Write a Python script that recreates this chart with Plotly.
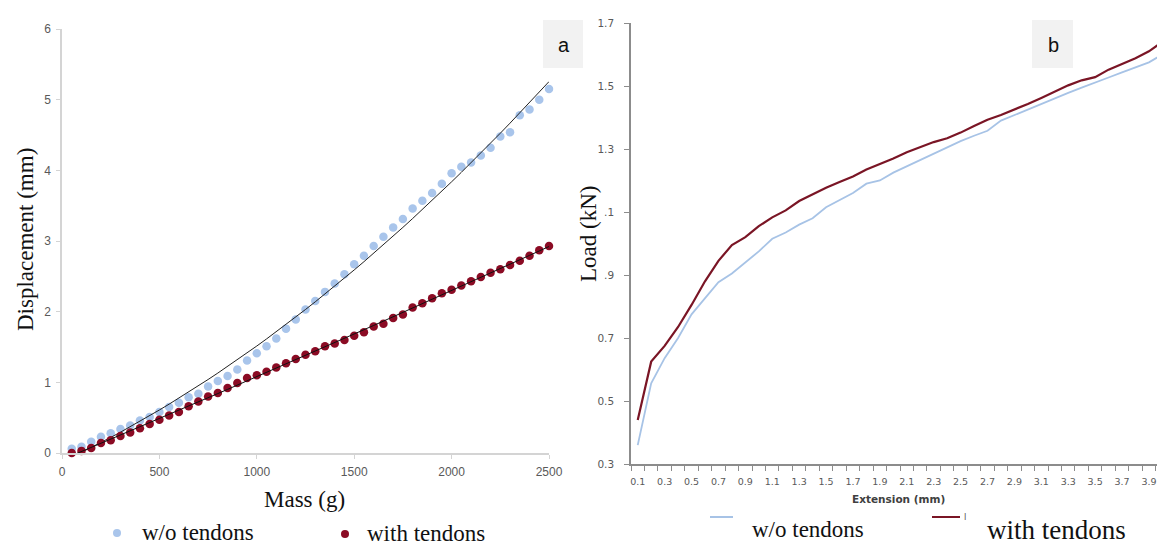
import numpy as np
import plotly.graph_objects as go

W, H = 1157, 545

# ---------------- Data: panel a ----------------
mass_g = [50 * i for i in range(1, 51)]
disp_without = [0.06, 0.09, 0.16, 0.23, 0.28, 0.34, 0.39, 0.46, 0.51, 0.58,
                0.65, 0.71, 0.79, 0.84, 0.94, 1.02, 1.09, 1.18, 1.31, 1.41,
                1.51, 1.62, 1.76, 1.89, 2.03, 2.15, 2.28, 2.40, 2.53, 2.67,
                2.79, 2.93, 3.06, 3.19, 3.31, 3.46, 3.57, 3.68, 3.81, 3.96,
                4.05, 4.11, 4.21, 4.32, 4.48, 4.54, 4.78, 4.86, 5.00, 5.15]
disp_with = [0.00, 0.03, 0.07, 0.14, 0.18, 0.24, 0.29, 0.35, 0.41, 0.47,
             0.53, 0.58, 0.66, 0.73, 0.80, 0.85, 0.92, 0.99, 1.06, 1.10,
             1.15, 1.21, 1.27, 1.33, 1.39, 1.44, 1.51, 1.55, 1.60, 1.66,
             1.71, 1.79, 1.83, 1.91, 1.96, 2.06, 2.12, 2.19, 2.26, 2.31,
             2.37, 2.43, 2.49, 2.55, 2.60, 2.66, 2.72, 2.79, 2.87, 2.93]
mass_ticks = [0, 500, 1000, 1500, 2000, 2500]
disp_ticks = [0, 1, 2, 3, 4, 5, 6]

# ---------------- Data: panel b ----------------
extension_mm = [round(0.1 * i, 1) for i in range(1, 41)]
load_without = [0.36, 0.556, 0.636, 0.70, 0.775, 0.825, 0.877, 0.905, 0.94, 0.975,
                1.015, 1.035, 1.06, 1.08, 1.115, 1.138, 1.16, 1.19, 1.20, 1.225,
                1.245, 1.265, 1.285, 1.305, 1.325, 1.342, 1.358, 1.39, 1.408, 1.425,
                1.442, 1.46, 1.478, 1.495, 1.512, 1.527, 1.543, 1.56, 1.575, 1.60]
load_with = [0.44, 0.625, 0.675, 0.735, 0.805, 0.88, 0.945, 0.995, 1.02, 1.055,
             1.083, 1.105, 1.135, 1.157, 1.177, 1.195, 1.213, 1.235, 1.252, 1.27,
             1.29, 1.305, 1.322, 1.334, 1.352, 1.373, 1.393, 1.408, 1.425, 1.443,
             1.462, 1.482, 1.502, 1.518, 1.528, 1.552, 1.57, 1.588, 1.61, 1.64]
ext_tick_vals = [round(0.1 + 0.2 * i, 1) for i in range(20)]
ext_tick_text = [f"{v:.1f}" for v in ext_tick_vals]
ext_boundaries = [round(0.05 + 0.1 * i, 2) for i in range(40)]
load_tick_vals = [0.3, 0.5, 0.7, 0.9, 1.1, 1.3, 1.5, 1.7]
load_tick_text = ["0.3", "0.5", "0.7", ".9", ".1", "1.3", "1.5", "1.7"]

# ---------------- Colours ----------------
BLUE = "#a9c5eb"
RED = "#8b0b24"
LINE_BLUE = "#a7c3e6"
LINE_RED = "#7a1525"

# trend lines (Excel-like polynomial fits)
m = np.array(mass_g, dtype=float)
fit_wo = np.polyval(np.polyfit(m, disp_without, 2), m)
fit_w = np.polyval(np.polyfit(m, disp_with, 2), m)

fig = go.Figure()

fig.add_trace(go.Scatter(x=mass_g, y=disp_without, mode="markers",
                         marker=dict(color=BLUE, size=8.5), cliponaxis=False,
                         xaxis="x", yaxis="y", name="w/o tendons"))
fig.add_trace(go.Scatter(x=mass_g, y=fit_wo, mode="lines",
                         line=dict(color="#222222", width=1),
                         xaxis="x", yaxis="y", cliponaxis=False))
fig.add_trace(go.Scatter(x=mass_g, y=disp_with, mode="markers",
                         marker=dict(color=RED, size=8.5), cliponaxis=False,
                         xaxis="x", yaxis="y", name="with tendons"))
fig.add_trace(go.Scatter(x=mass_g, y=fit_w, mode="lines",
                         line=dict(color="#111111", width=1),
                         xaxis="x", yaxis="y", cliponaxis=False))

fig.add_trace(go.Scatter(x=extension_mm, y=load_without, mode="lines",
                         line=dict(color=LINE_BLUE, width=1.8),
                         xaxis="x2", yaxis="y2", name="w/o tendons"))
fig.add_trace(go.Scatter(x=extension_mm, y=load_with, mode="lines",
                         line=dict(color=LINE_RED, width=2.2),
                         xaxis="x2", yaxis="y2", name="with tendons"))

def px(x):
    return x / W

def py(y):
    return 1 - y / H

tickfont_a = dict(family="Liberation Sans Narrow, Liberation Sans", size=12, color="#595959")
tickfont_b = dict(family="DejaVu Sans", size=9.5, color="#595959")

fig.update_layout(
    width=W, height=H, margin=dict(l=0, r=0, t=0, b=0, autoexpand=False),
    paper_bgcolor="white", plot_bgcolor="white", showlegend=False,
    xaxis=dict(domain=[px(62), px(549)], range=[0, 2500], tickvals=mass_ticks,
               showline=True, linecolor="#d4d4d4", linewidth=1.5,
               ticks="outside", ticklen=4, tickcolor="#d4d4d4",
               showgrid=False, zeroline=False, tickfont=tickfont_a,
               ticklabelstandoff=3, automargin=False, anchor="y"),
    yaxis=dict(domain=[py(453), py(29)], range=[0, 6], tickvals=disp_ticks,
               showline=True, linecolor="#d4d4d4", linewidth=1.5,
               ticks="outside", ticklen=4, tickcolor="#d4d4d4",
               showgrid=False, zeroline=False, tickfont=tickfont_a,
               ticklabelstandoff=3, automargin=False, anchor="x"),
    xaxis2=dict(domain=[px(631), 1.0], range=[0.05, 3.96],
                tickvals=ext_tick_vals, ticktext=ext_tick_text, ticks="",
                minor=dict(tickmode="array", tickvals=ext_boundaries,
                           ticks="outside", ticklen=5, tickcolor="#8c8c8c", tickwidth=1),
                showline=True, linecolor="#8c8c8c", linewidth=1.5,
                showgrid=False, zeroline=False, tickfont=tickfont_b,
                ticklabeloverflow="allow",
                ticklabelstandoff=8, automargin=False, anchor="y2"),
    yaxis2=dict(domain=[py(464), py(23)], range=[0.3, 1.7],
                tickvals=load_tick_vals, ticktext=load_tick_text,
                showline=True, linecolor="#8c8c8c", linewidth=1.5,
                ticks="outside", ticklen=5, tickcolor="#8c8c8c",
                showgrid=False, zeroline=False,
                tickfont=dict(family="DejaVu Sans", size=10.5, color="#595959"),
                ticklabelstandoff=8, automargin=False, anchor="x2"),
)

serif = "Liberation Serif"
shapes = [
    # label boxes
    dict(type="rect", xref="paper", yref="paper", x0=px(543), x1=px(583),
         y0=py(68), y1=py(20), fillcolor="#f2f2f2", line=dict(width=0), layer="below"),
    dict(type="rect", xref="paper", yref="paper", x0=px(1032), x1=px(1073),
         y0=py(68), y1=py(20), fillcolor="#f2f2f2", line=dict(width=0), layer="below"),
    # legend symbols panel a
    dict(type="circle", xref="paper", yref="paper", x0=px(113), x1=px(121),
         y0=py(537), y1=py(529), fillcolor=BLUE, line=dict(width=0)),
    dict(type="circle", xref="paper", yref="paper", x0=px(341), x1=px(349),
         y0=py(538), y1=py(530), fillcolor=RED, line=dict(width=0)),
    # legend symbols panel b
    dict(type="line", xref="paper", yref="paper", x0=px(710), x1=px(733),
         y0=py(517), y1=py(517), line=dict(color=LINE_BLUE, width=2)),
    dict(type="line", xref="paper", yref="paper", x0=px(932), x1=px(960),
         y0=py(517), y1=py(517), line=dict(color=LINE_RED, width=2)),
]

annotations = [
    dict(text="Displacement (mm)", x=px(25), y=py(240), textangle=-90,
         font=dict(family=serif, size=23, color="#111111")),
    dict(text="Mass (g)", x=px(305), y=py(499),
         font=dict(family=serif, size=23, color="#111111")),
    dict(text="w/o tendons", x=px(140), y=py(532), xanchor="left",
         font=dict(family=serif, size=23, color="#111111")),
    dict(text="with tendons", x=px(365), y=py(533), xanchor="left",
         font=dict(family=serif, size=23, color="#111111")),
    dict(text="a", x=px(564), y=py(45),
         font=dict(family="Liberation Sans", size=20, color="#111111")),
    dict(text="b", x=px(1053), y=py(45),
         font=dict(family="Liberation Sans", size=20, color="#111111")),
    dict(text="Load (kN)", x=px(588), y=py(234), textangle=-90,
         font=dict(family=serif, size=23, color="#111111")),
    dict(text="<b>Extension (mm)</b>", x=px(898), y=py(499),
         font=dict(family="DejaVu Sans", size=10.5, color="#404040")),
    dict(text="w/o tendons", x=px(750), y=py(529), xanchor="left",
         font=dict(family=serif, size=23, color="#111111")),
    dict(text="I", x=px(965), y=py(517),
         font=dict(family="DejaVu Sans", size=8, color="#595959")),
    dict(text="with tendons", x=px(985), y=py(530), xanchor="left",
         font=dict(family=serif, size=27, color="#111111")),
]
for a in annotations:
    a.update(xref="paper", yref="paper", showarrow=False)
    a.setdefault("xanchor", "center")
    a.setdefault("yanchor", "middle")

fig.update_layout(shapes=shapes, annotations=annotations)

fig.write_html(
    "out.html",
    config={"displayModeBar": False},
    post_script="document.body.style.margin='0';document.body.style.overflow='hidden';",
)
